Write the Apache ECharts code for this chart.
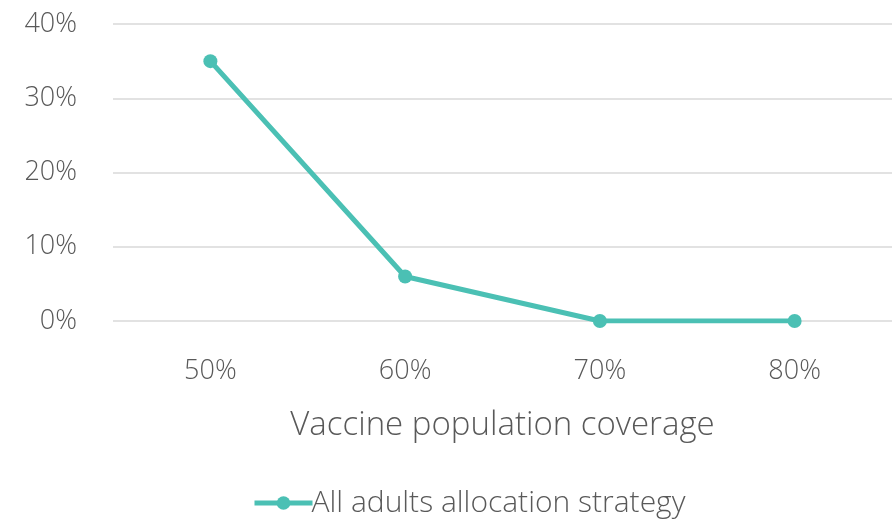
<!DOCTYPE html>
<html>
<head>
<meta charset="utf-8">
<script src="https://cdn.jsdelivr.net/npm/echarts@6/dist/echarts.min.js"></script>
<style>
  html, body { margin: 0; padding: 0; background: #fff; }
  #chart { width: 892px; height: 521px; }
</style>
</head>
<body>
<div id="chart"></div>
<script>
const coverage = ['50%', '60%', '70%', '80%'];
const allAdults = [35, 6, 0, 0];

const font = "'Open Sans', 'Segoe UI', sans-serif";
const txt = '#595959';

var myChart = echarts.init(document.getElementById('chart'));

var option = {
  animation: false,
  grid: { left: 113, right: -3, top: 24, bottom: 200 },
  xAxis: {
    type: 'category',
    data: coverage,
    name: 'Vaccine population coverage',
    nameLocation: 'middle',
    nameGap: 88,
    nameTextStyle: { color: txt, fontSize: 33, fontFamily: font, fontWeight: 300 },
    axisLine: { show: false },
    axisTick: { show: false },
    axisLabel: { color: txt, fontSize: 27, fontFamily: font, fontWeight: 300, margin: 37 },
  },
  yAxis: {
    type: 'value',
    min: 0,
    max: 40,
    interval: 10,
    axisLabel: {
      color: txt, fontSize: 27, fontFamily: font, fontWeight: 300, margin: 36,
      formatter: '{value}%',
    },
    splitLine: { lineStyle: { color: '#d9d9d9', width: 1.5 } },
  },
  legend: {
    bottom: -2,
    left: 247,
    itemWidth: 58,
    itemHeight: 17,
    itemGap: 0,
    lineStyle: { width: 5 },
    textStyle: { color: txt, fontSize: 30, fontFamily: font, fontWeight: 300, padding: [0, 0, 0, -6] },
  },
  series: [
    {
      name: 'All adults allocation strategy',
      type: 'line',
      data: allAdults,
      symbol: 'circle',
      symbolSize: 14,
      lineStyle: { color: '#4bc0b4', width: 5 },
      itemStyle: { color: '#4bc0b4' },
    },
  ],
};

myChart.setOption(option);
</script>
</body>
</html>
